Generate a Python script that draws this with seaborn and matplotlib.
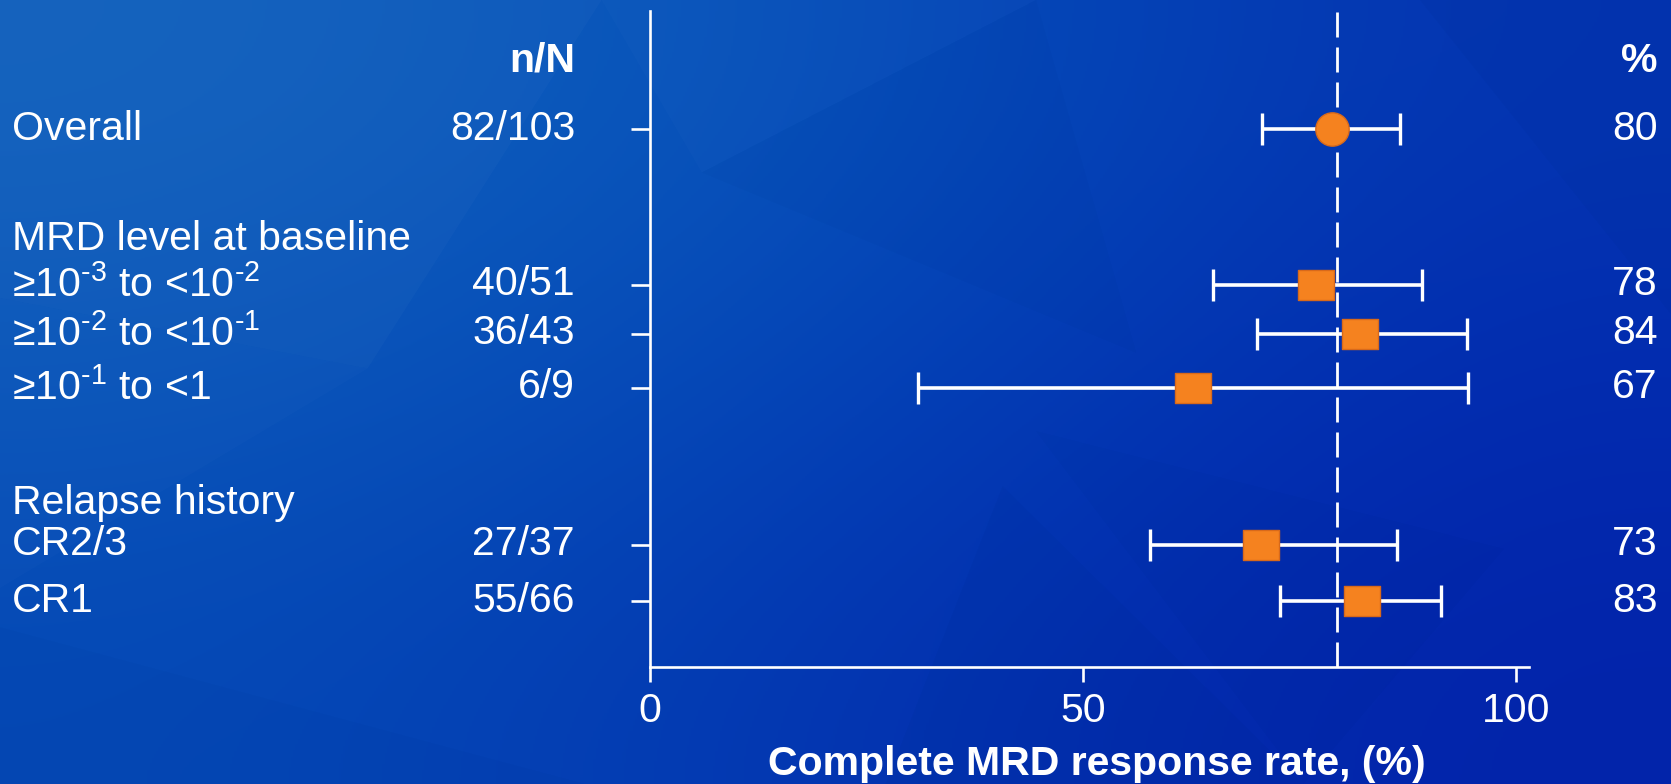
import numpy as np
import pandas as pd
import matplotlib
matplotlib.use("Agg")
import matplotlib.pyplot as plt
import matplotlib.transforms as mtransforms
from matplotlib.path import Path
from matplotlib.patches import Polygon
from matplotlib.colors import to_rgb
import seaborn as sns

# ---------------- data ----------------
row_labels = [
    "Overall",
    "≥10$^{\\mathregular{‐3}}$ to <10$^{\\mathregular{‐2}}$",
    "≥10$^{\\mathregular{‐2}}$ to <10$^{\\mathregular{‐1}}$",
    "≥10$^{\\mathregular{‐1}}$ to <1",
    "CR2/3",
    "CR1",
]
n_over_N = ["82/103", "40/51", "36/43", "6/9", "27/37", "55/66"]
pct_labels = ["80", "78", "84", "67", "73", "83"]
estimate = [78.7, 76.9, 82.0, 62.7, 70.6, 82.2]
ci_low = [70.7, 65.0, 70.1, 31.0, 57.7, 72.7]
ci_high = [86.6, 89.1, 94.3, 94.4, 86.2, 91.3]
marker_kind = ["circle", "square", "square", "square", "square", "square"]
group_headers = ["MRD level at baseline", "Relapse history"]
reference_line = 79.3
x_ticks = [0, 50, 100]
x_label = "Complete MRD response rate, (%)"
col_header_n = "n/N"
col_header_pct = "%"

# ---------------- layout (positions, not data) ----------------
row_pos = [0.0, 2.97, 3.90, 4.93, 7.92, 9.0]
header_pos = [2.10, 7.13]
col_header_pos = -1.30

sns.set_theme(style="ticks")
plt.rcParams["font.family"] = ["Liberation Sans", "DejaVu Sans"]
plt.rcParams["mathtext.fontset"] = "custom"
plt.rcParams["mathtext.rm"] = "Liberation Sans"
plt.rcParams["mathtext.it"] = "Liberation Sans"
plt.rcParams["mathtext.bf"] = "Liberation Sans:bold"

FS = 29.5
WHITE = "white"
ORANGE = "#F5821F"
ORANGE_EDGE = "#D8691A"

W, H = 1671, 784
fig = plt.figure(figsize=(W / 100, H / 100), dpi=100)

# ---------------- background gradient ----------------
bg = fig.add_axes([0, 0, 1, 1], zorder=-10)
grid_cols = [
    ["#1161bd", "#0551ba", "#0434b1"],
    ["#0a56b9", "#0343b7", "#022aaf"],
    ["#0549b6", "#0335b1", "#0223aa"],
]
grid = np.array([[to_rgb(c) for c in row] for row in grid_cols])
bg.imshow(grid, extent=[0, 1, 0, 1], aspect="auto", interpolation="bicubic",
          origin="upper")
facets = [
    ([(0, 1), (0.36, 1), (0.22, 0.53), (0, 0.62)], "white", 0.025),
    ([(0.0, 0.62), (0.22, 0.53), (0.0, 0.25)], "white", 0.015),
    ([(0.36, 1), (0.62, 1), (0.42, 0.78)], "white", 0.015),
    ([(0.42, 0.78), (0.62, 1), (0.68, 0.55)], "black", 0.015),
    ([(0.53, 0.0), (0.78, 0.0), (0.6, 0.38)], "black", 0.02),
    ([(0.0, 0.0), (0.35, 0.0), (0.0, 0.2)], "black", 0.015),
    ([(0.85, 1), (1, 1), (1, 0.6)], "black", 0.02),
    ([(0.62, 0.45), (0.9, 0.3), (0.78, 0.0)], "black", 0.015),
]
for pts, col, a in facets:
    bg.add_patch(Polygon(pts, closed=True, facecolor=col, alpha=a,
                         edgecolor="none", transform=bg.transAxes))
bg.set_xlim(0, 1)
bg.set_ylim(0, 1)
bg.axis("off")

# ---------------- main axes ----------------
ax_left, ax_right = 650 / W, 1529 / W
ax_bottom, ax_top = 1 - 666.5 / H, 1 - 11 / H
ax = fig.add_axes([ax_left, ax_bottom, ax_right - ax_left, ax_top - ax_bottom])
ax.patch.set_alpha(0)

df = pd.DataFrame({
    "est": estimate, "lo": ci_low, "hi": ci_high,
    "pos": row_pos, "kind": marker_kind,
})

ax.axvline(reference_line, color=WHITE, lw=2.0, linestyle=(0, (9, 3.6)),
           zorder=2)

ax.errorbar(df["est"], df["pos"],
            xerr=[df["est"] - df["lo"], df["hi"] - df["est"]],
            fmt="none", ecolor=WHITE, elinewidth=2.6, capsize=11.4,
            capthick=2.4, zorder=3)

rect = Path([(-1.17, -1), (1.17, -1), (1.17, 1), (-1.17, 1), (-1.17, -1)],
            [Path.MOVETO, Path.LINETO, Path.LINETO, Path.LINETO,
             Path.CLOSEPOLY])
sns.scatterplot(data=df[df["kind"] == "circle"], x="est", y="pos",
                marker="o", s=24 ** 2, color=ORANGE, edgecolor=ORANGE_EDGE,
                linewidth=1, ax=ax, zorder=4, legend=False)
sns.scatterplot(data=df[df["kind"] == "square"], x="est", y="pos",
                marker=rect, s=25.4 ** 2, color=ORANGE, edgecolor=ORANGE_EDGE,
                linewidth=1, ax=ax, zorder=4, legend=False)

ax.set_xlim(0, 101.5)
ax.set_ylim(10.24, -2.25)
ax.set_xticks(x_ticks)
ax.set_xticklabels([str(t) for t in x_ticks])
ax.set_yticks(row_pos)
ax.set_yticklabels([])
sns.despine(ax=ax)
for side in ["left", "bottom"]:
    ax.spines[side].set_color(WHITE)
    ax.spines[side].set_linewidth(1.9)
ax.tick_params(axis="y", direction="out", length=13.7, width=1.9,
               color=WHITE, left=True)
ax.tick_params(axis="x", direction="out", length=11, width=1.9,
               color=WHITE, labelcolor=WHITE, labelsize=FS, pad=7,
               bottom=True)
ax.set_xlabel(x_label, color=WHITE, fontsize=FS, fontweight="bold",
              labelpad=11)
ax.xaxis.label.set_x(0.508)
ax.set_ylabel("")

# ---------------- table text ----------------
tr = mtransforms.blended_transform_factory(fig.transFigure, ax.transData)
x_lab = 12 / W
x_n = 575 / W
x_pct = 1658 / W

ax.text(x_n, col_header_pos, col_header_n, transform=tr, ha="right",
        va="center", color=WHITE, fontsize=FS, fontweight="bold")
ax.text(x_pct, col_header_pos, col_header_pct, transform=tr, ha="right",
        va="center", color=WHITE, fontsize=FS, fontweight="bold")
for txt, p in zip(group_headers, header_pos):
    ax.text(x_lab, p, txt, transform=tr, ha="left", va="center",
            color=WHITE, fontsize=FS)
for lab, nn, pc, p in zip(row_labels, n_over_N, pct_labels, row_pos):
    yp = p - 0.01
    ax.text(x_lab, yp, lab, transform=tr, ha="left", va="center",
            color=WHITE, fontsize=FS, clip_on=False)
    ax.text(x_n, yp, nn, transform=tr, ha="right", va="center",
            color=WHITE, fontsize=FS, clip_on=False)
    ax.text(x_pct, yp, pc, transform=tr, ha="right", va="center",
            color=WHITE, fontsize=FS, clip_on=False)

fig.savefig("out.png", dpi=100)
